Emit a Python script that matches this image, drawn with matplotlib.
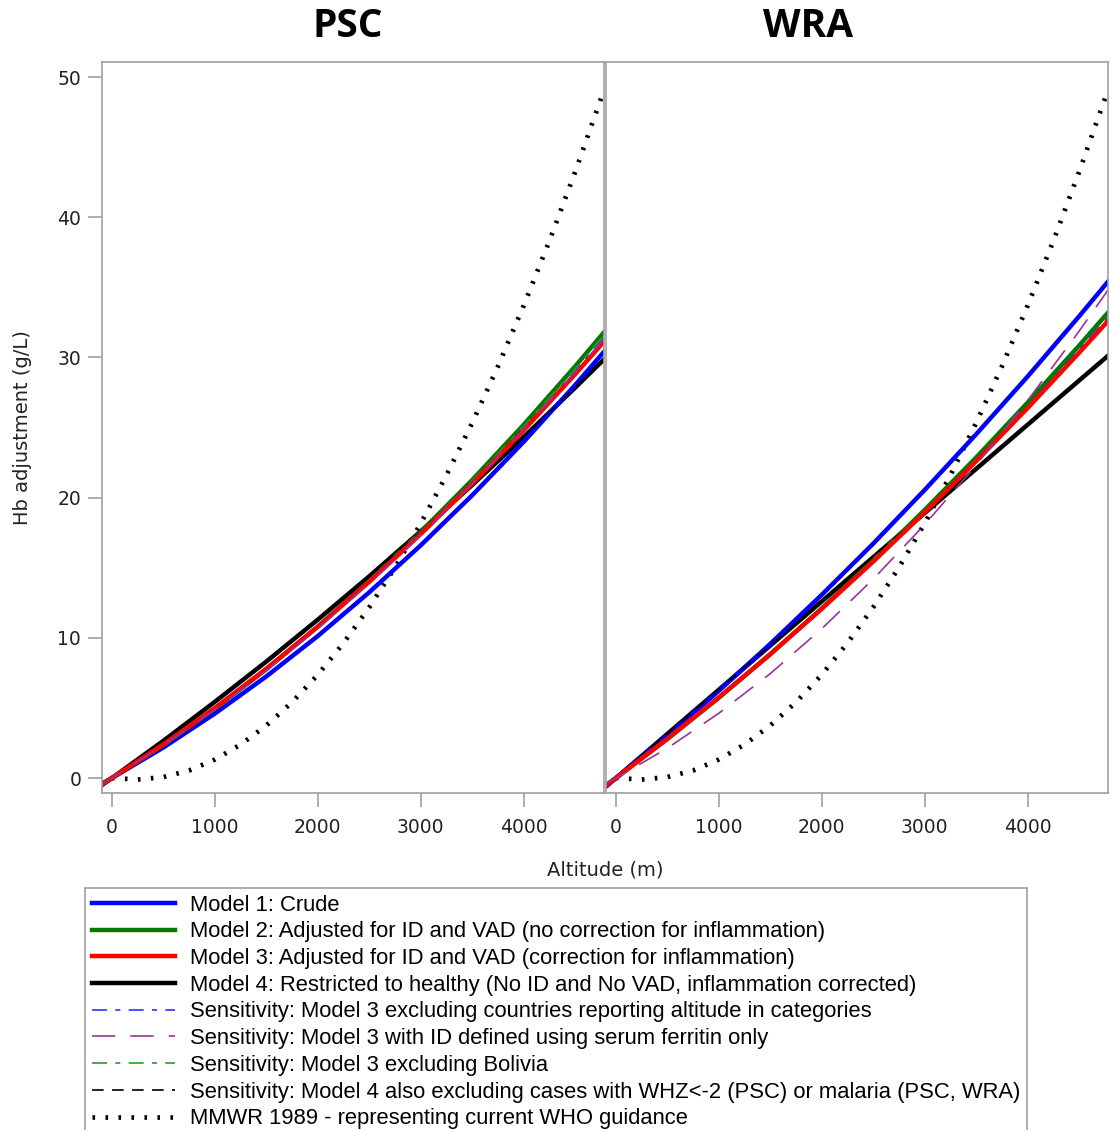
import matplotlib
matplotlib.use("Agg")
import matplotlib.pyplot as plt
from matplotlib.lines import Line2D

# altitude grid (m) that the model curves were read at
altitude = [-100, 0, 500, 1000, 1500, 2000, 2500, 3000, 3500, 4000, 4500, 4780]

# PSC panel, Hb adjustment (g/L)
psc_m1 = [-0.41, 0.0, 2.18, 4.60, 7.25, 10.13, 13.25, 16.60, 20.17, 23.98, 28.03, 30.40]
psc_m2 = [-0.45, 0.0, 2.36, 4.95, 7.76, 10.80, 14.06, 17.55, 21.26, 25.20, 29.36, 31.79]
psc_m3 = [-0.46, 0.0, 2.40, 5.00, 7.80, 10.80, 14.00, 17.40, 21.00, 24.80, 28.80, 31.13]
psc_m4 = [-0.52, 0.0, 2.66, 5.44, 8.31, 11.30, 14.39, 17.60, 20.90, 24.32, 27.84, 29.86]
psc_s1 = [-0.46, 0.0, 2.41, 5.03, 7.85, 10.88, 14.11, 17.55, 21.19, 25.04, 29.09, 31.45]
psc_s2 = [-0.44, 0.0, 2.34, 4.89, 7.67, 10.66, 13.88, 17.31, 20.97, 24.84, 28.94, 31.32]
psc_s3 = [-0.45, 0.0, 2.38, 4.98, 7.79, 10.82, 14.06, 17.52, 21.19, 25.08, 29.18, 31.57]
psc_s4 = [-0.52, 0.0, 2.66, 5.42, 8.30, 11.28, 14.38, 17.58, 20.90, 24.32, 27.86, 29.89]

# WRA panel, Hb adjustment (g/L)
wra_m1 = [-0.59, 0.0, 3.03, 6.22, 9.57, 13.07, 16.72, 20.55, 24.52, 28.64, 32.93, 35.40]
wra_m2 = [-0.54, 0.0, 2.78, 5.73, 8.83, 12.10, 15.53, 19.12, 22.86, 26.78, 30.84, 33.19]
wra_m3 = [-0.55, 0.0, 2.81, 5.75, 8.84, 12.07, 15.44, 18.95, 22.60, 26.39, 30.33, 32.59]
wra_m4 = [-0.63, 0.0, 3.15, 6.30, 9.45, 12.60, 15.75, 18.90, 22.05, 25.20, 28.35, 30.11]
wra_s1 = [-0.54, 0.0, 2.80, 5.74, 8.84, 12.08, 15.48, 19.02, 22.72, 26.56, 30.56, 32.85]
wra_s2 = [-0.38, 0.0, 2.13, 4.62, 7.45, 10.65, 14.19, 18.08, 22.32, 26.92, 31.87, 34.80]
wra_s3 = [-0.54, 0.0, 2.80, 5.75, 8.84, 12.08, 15.46, 18.99, 22.66, 26.48, 30.44, 32.73]
wra_s4 = [-0.63, 0.0, 3.16, 6.32, 9.48, 12.64, 15.80, 18.96, 22.12, 25.28, 28.44, 30.21]

# MMWR 1989 curve (same in both panels)
mmwr_alt = [0, 250, 500, 750, 1000, 1250, 1500, 1750, 2000, 2250, 2500, 2750,
            3000, 3250, 3500, 3750, 4000, 4250, 4500, 4750, 4780]
mmwr_hb = [0.0, -0.11, 0.07, 0.54, 1.32, 2.39, 3.75, 5.41, 7.37, 9.63, 12.18, 15.02,
           18.16, 21.60, 25.33, 29.36, 33.69, 38.31, 43.23, 48.44, 49.09]

panel_titles = ["PSC", "WRA"]
legend_labels = [
    "Model 1: Crude",
    "Model 2: Adjusted for ID and VAD (no correction for inflammation)",
    "Model 3: Adjusted for ID and VAD (correction for inflammation)",
    "Model 4: Restricted to healthy (No ID and No VAD, inflammation corrected)",
    "Sensitivity: Model 3 excluding countries reporting altitude in categories",
    "Sensitivity: Model 3 with ID defined using serum ferritin only",
    "Sensitivity: Model 3 excluding Bolivia",
    "Sensitivity: Model 4 also excluding cases with WHZ<-2 (PSC) or malaria (PSC, WRA)",
    "MMWR 1989 - representing current WHO guidance",
]

styles = [
    dict(color="#0000ff", lw=3.2, ls="-"),
    dict(color="#007a00", lw=3.2, ls="-"),
    dict(color="#ff0000", lw=3.2, ls="-"),
    dict(color="#000000", lw=3.2, ls="-"),
    dict(color="#3030ff", lw=1.2, ls=(0, (9, 5, 3, 5))),
    dict(color="#993399", lw=1.2, ls=(0, (14, 9))),
    dict(color="#22a022", lw=1.2, ls=(0, (9, 5, 3, 5))),
    dict(color="#000000", lw=1.2, ls=(0, (7, 5))),
    dict(color="#000000", lw=3.4, ls=(0, (0.55, 2.2))),
]

panels = [
    [psc_m1, psc_m2, psc_m3, psc_m4, psc_s1, psc_s2, psc_s3, psc_s4],
    [wra_m1, wra_m2, wra_m3, wra_m4, wra_s1, wra_s2, wra_s3, wra_s4],
]
# draw order: sensitivity lines under the main models, red on top
order = [3, 0, 1, 7, 4, 6, 2, 5]
title_x = [0.49, 0.402]

fig = plt.figure(figsize=(11.11, 11.30), dpi=100)
edge = "#a0a0a0"
text_col = "#222222"

axes = []
for i in range(2):
    left = 0.0918 + i * 0.4536
    ax = fig.add_axes([left, 0.2982, 0.4518, 0.6469])
    axes.append(ax)
    ax.plot(mmwr_alt, mmwr_hb, **styles[8])
    for k in order:
        ax.plot(altitude, panels[i][k], **styles[k])
    ax.set_xlim(-97, 4780)
    ax.set_ylim(-1.07, 51.07)
    ax.set_xticks([0, 1000, 2000, 3000, 4000])
    ax.set_yticks([0, 10, 20, 30, 40, 50])
    for s in ax.spines.values():
        s.set_color(edge)
        s.set_linewidth(1.2)
    ax.tick_params(direction="out", length=10, width=1.2, color=edge,
                   labelsize=13.5, labelcolor=text_col)
    ax.tick_params(axis="x", pad=8)
    ax.tick_params(axis="y", pad=5)
    if i == 1:
        ax.tick_params(axis="y", left=False, labelleft=False)
    ax.set_title(panel_titles[i], fontsize=28, fontweight="bold", pad=18,
                 family="Open Sans", x=title_x[i])

axes[0].set_ylabel("Hb adjustment (g/L)", fontsize=14, color=text_col, labelpad=18)
fig.text(0.5445, 1 - 870 / 1130, "Altitude (m)", ha="center", va="center",
         fontsize=14, color=text_col)

handles = [Line2D([], [], **st) for st in styles]
leg = fig.legend(handles, legend_labels, loc="upper left",
                 bbox_to_anchor=(85 / 1111, 1 - 888 / 1130),
                 prop={"family": "Liberation Sans", "size": 15.8},
                 handlelength=3.8, handletextpad=0.7, labelspacing=0.26,
                 borderpad=0.3, borderaxespad=0, fancybox=False, framealpha=1)
leg.get_frame().set_edgecolor(edge)
leg.get_frame().set_linewidth(1.2)

fig.savefig("out.png", dpi=100)
